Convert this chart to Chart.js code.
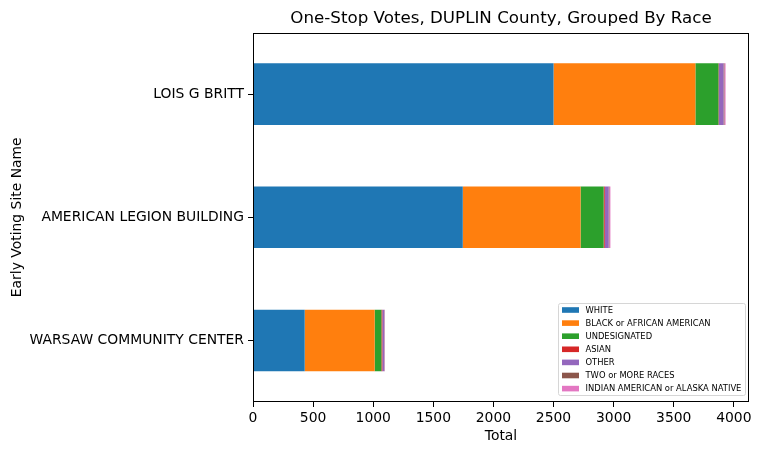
<!DOCTYPE html>
<html>
<head>
<meta charset="utf-8">
<script src="https://cdn.jsdelivr.net/npm/chart.js@4/dist/chart.umd.min.js"></script>
<style>
html,body{margin:0;padding:0;background:#fff;}
#wrap{width:761px;height:455px;position:relative;}
</style>
</head>
<body>
<div id="wrap"><canvas id="c" width="761" height="455"></canvas></div>
<script>
const sites = ['LOIS G BRITT', 'AMERICAN LEGION BUILDING', 'WARSAW COMMUNITY CENTER'];
const races = ['WHITE', 'BLACK or AFRICAN AMERICAN', 'UNDESIGNATED', 'ASIAN', 'OTHER', 'TWO or MORE RACES', 'INDIAN AMERICAN or ALASKA NATIVE'];
const white = [2500, 1745, 430];
const black = [1180, 980, 582];
const undesignated = [192, 192, 56];
const asian = [4, 9, 8];
const other = [38, 33, 16];
const twoOrMore = [7, 5, 2];
const indian = [10, 9, 3];
const xTicks = [0, 500, 1000, 1500, 2000, 2500, 3000, 3500, 4000];
const colors = ['#1f77b4', '#ff7f0e', '#2ca02c', '#d62728', '#9467bd', '#8c564b', '#e377c2'];
const seriesValues = [white, black, undesignated, asian, other, twoOrMore, indian];

const FONT = 'DejaVu Sans';

const framePlugin = {
  id: 'frame',
  afterDatasetsDraw(chart) {
    const {ctx, chartArea: a} = chart;
    ctx.save();
    ctx.strokeStyle = '#000';
    ctx.lineWidth = 1;
    ctx.strokeRect(Math.round(a.left) + 0.5, Math.round(a.top) + 0.5, Math.round(a.right - a.left) - 1, Math.round(a.bottom - a.top) - 1);
    ctx.restore();
  }
};

const legendPlugin = {
  id: 'boxLegend',
  afterDraw(chart) {
    const ctx = chart.ctx;
    const x0 = 558, y0 = 303, w = 187, h = 92;
    ctx.save();
    ctx.fillStyle = 'rgba(255,255,255,0.8)';
    ctx.strokeStyle = '#d6d6d6';
    ctx.lineWidth = 1;
    ctx.beginPath();
    if (ctx.roundRect) ctx.roundRect(x0 + 0.5, y0 + 0.5, w, h, 2); else ctx.rect(x0 + 0.5, y0 + 0.5, w, h);
    ctx.fill();
    ctx.stroke();
    ctx.font = '8.4px "' + FONT + '"';
    ctx.textBaseline = 'middle';
    ctx.textAlign = 'left';
    chart.data.datasets.forEach((ds, i) => {
      const cy = 310 + i * 13.1;
      ctx.fillStyle = ds.backgroundColor;
      ctx.fillRect(562, cy - 2.8, 17, 5.6);
      ctx.fillStyle = '#000';
      ctx.fillText(ds.label, 585.5, cy + 0.5);
    });
    ctx.restore();
  }
};

new Chart(document.getElementById('c'), {
  type: 'bar',
  data: {
    labels: sites,
    datasets: races.map((r, i) => ({
      label: r,
      data: seriesValues[i],
      backgroundColor: colors[i],
      borderWidth: 0,
      barPercentage: 0.5,
      categoryPercentage: 1.0
    }))
  },
  options: {
    indexAxis: 'y',
    responsive: false,
    animation: false,
    devicePixelRatio: 1,
    layout: {padding: {left: 0, right: 12, top: 0, bottom: 0}},
    plugins: {
      legend: {display: false},
      tooltip: {enabled: false},
      title: {
        display: true,
        text: 'One-Stop Votes, DUPLIN County, Grouped By Race',
        fullSize: false,
        color: '#000',
        font: {family: FONT, size: 16.7, weight: 'normal'},
        padding: {top: 8.5, bottom: 4}
      }
    },
    scales: {
      x: {
        stacked: true,
        min: 0,
        max: 4126,
        afterFit(s) { s.height = 53; },
        afterBuildTicks(s) { s.ticks = xTicks.map(v => ({value: v})); },
        ticks: {
          color: '#000',
          font: {family: FONT, size: 13.9},
          padding: 3.5,
          maxRotation: 0,
          includeBounds: false,
          callback: (v) => String(v)
        },
        grid: {display: true, drawOnChartArea: false, drawTicks: true, tickLength: 5, color: '#000', lineWidth: 1},
        border: {display: false},
        title: {display: true, text: 'Total', color: '#000', font: {family: FONT, size: 13.9}, padding: {top: 2, bottom: 10}}
      },
      y: {
        stacked: true,
        afterFit(s) { s.width = 253; },
        ticks: {
          color: '#000',
          font: {family: FONT, size: 13.9},
          padding: 4
        },
        grid: {display: true, offset: false, drawOnChartArea: false, drawTicks: true, tickLength: 5, color: '#000', lineWidth: 1},
        border: {display: false},
        title: {display: true, text: 'Early Voting Site Name', color: '#000', font: {family: FONT, size: 13.9}, padding: {top: 9, bottom: 4}}
      }
    }
  },
  plugins: [framePlugin, legendPlugin]
});
</script>
</body>
</html>
